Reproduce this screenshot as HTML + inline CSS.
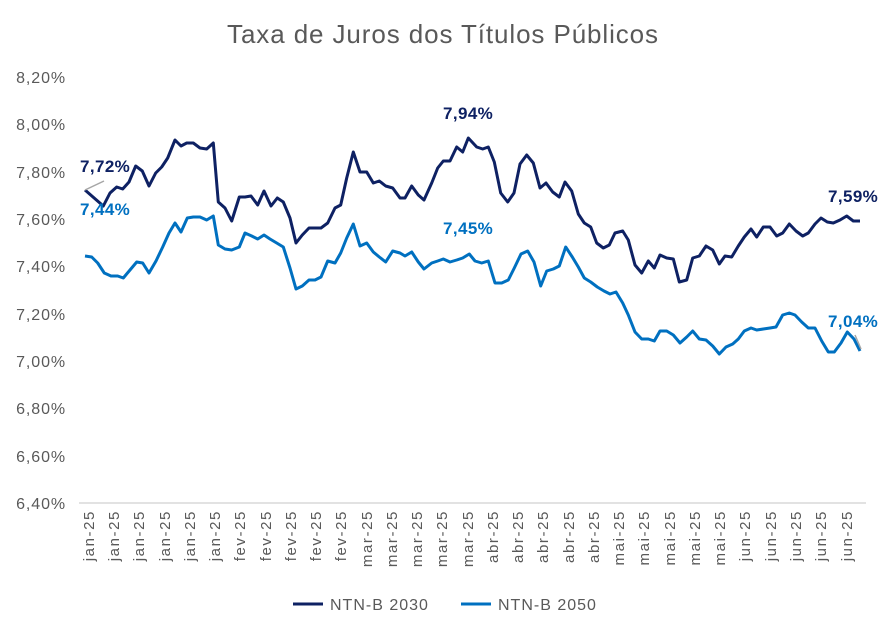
<!DOCTYPE html>
<html><head><meta charset="utf-8"><style>
html,body{margin:0;padding:0;background:#fff;}
svg{display:block;font-family:"Liberation Sans",sans-serif;}
</style></head><body>
<svg width="886" height="635" viewBox="0 0 886 635" xmlns="http://www.w3.org/2000/svg">
<rect width="886" height="635" fill="#fff"/>
<text x="443" y="43" text-anchor="middle" font-size="26" letter-spacing="0.9" fill="#595959">Taxa de Juros dos Títulos Públicos</text>
<g font-size="16" letter-spacing="0.9" fill="#595959" text-anchor="end">
<text x="66" y="83">8,20%</text>
<text x="66" y="130">8,00%</text>
<text x="66" y="178">7,80%</text>
<text x="66" y="225">7,60%</text>
<text x="66" y="272">7,40%</text>
<text x="66" y="320">7,20%</text>
<text x="66" y="367">7,00%</text>
<text x="66" y="414">6,80%</text>
<text x="66" y="462">6,60%</text>
<text x="66" y="509">6,40%</text>
</g>
<line x1="79" y1="503" x2="866" y2="503" stroke="#d9d9d9" stroke-width="1.5"/>
<polyline fill="none" stroke="#0070c0" stroke-width="3" stroke-linejoin="round" points="85,256 91.7,257 97.7,263 104.3,273 111,276 117.7,276 123.3,278 130,270 136.7,262 142.7,263 149,273 156,261 162.7,247 169,233 175,223 181,232 187.3,218 193.3,217 200,217 206.7,220 213.3,216 218.3,245 225,249 231.7,250 239.3,247 245,233 251.7,236 257.7,239 264,235 270,239 276.7,243 283.3,247 290,268 296,289 302.3,286 309,280 315,280 321,277 327.7,261 335,263 340.7,253 346.7,238 353.3,224 360,246 366.7,243 373.3,252 379.3,257 385.7,262 392.7,251 400,253 405,256 411.7,252 418.3,262 424,269 431.7,263 437.7,261 443.3,259 450,262 456.7,260 462.7,258 469.3,254 475,261 481.7,263 488.3,261 495,283 501.7,283 508.3,280 514.3,268 521,254 527.7,251 534,262 540.7,286 546.7,271 553.3,269 559.3,266 565.7,247 572.3,257 578.3,267 584.3,278 590.7,282 597.3,287 604,291 610,294 616,292 622.7,303 628.3,315 635,332 641.7,339 648.3,339 654.3,341 660,331 666.7,331 673.3,335 680,343 686.7,337 692.7,331 699.3,339 706,340 712.7,346 719.3,354 726,347 732.7,344 738.3,339 744.3,331 751,328 756.7,330 763.3,329 770,328 776,327 782.7,315 789.3,313 795,315 801.7,322 808.3,328 815,328 821.7,341 828.3,352 834.3,352 841,343 847.3,332 854,339 860,351"/>
<polyline fill="none" stroke="#0e2163" stroke-width="3" stroke-linejoin="round" points="85,190 103.3,206 110,193 116.7,187 122.7,189 129,182 135.7,166 142.3,171 149,186 155.7,173 161.7,167 167.7,158 175,140 181,146 186.7,143 193.3,143 200,148 206.7,149 213.3,143 218.3,202 225,208 231.7,221 239.3,197 245,197 251,196 257.7,205 264,191 271,206 277.3,198 283.3,202 290,218 296,243 302.3,235 309,228 315,228 321,228 327.7,223 335,208 340.7,205 346.7,178 353.3,152 360,172 366.7,172 373.3,183 379.3,181 385.7,186 392.7,188 400,198 405,198 411.7,186 418.3,195 424,200 431.7,183 437.7,168 443.3,161 450,161 456.7,147 462.7,152 468.3,138 476.7,147 482.7,149 488.3,147 494.3,162 500.7,193 507.7,202 514,193 520,164 526.7,155 533.3,163 540,188 546,183 552.7,192 559.3,197 565,182 571.7,191 578.3,214 584.3,223 590.7,227 596.7,243 603.3,248 609.3,245 615,233 622.7,231 628.3,240 635,265 641.7,273 648.3,261 654.3,268 660,255 666.7,258 673.3,259 679.3,282 686.7,280 692.7,258 699.3,256 706,246 712.7,250 719.3,264 725,256 731.7,257 738.3,246 744.3,237 751,229 756.7,237 763.3,227 770,227 776.7,236 782.7,233 789.3,224 796,231 802.7,236 808.3,233 815,224 821,218 827.3,222 833.3,223 840,220 846.7,216 853.3,221 860,221"/>
<line x1="85" y1="190" x2="104" y2="181" stroke="#a6a6a6" stroke-width="1.5"/>
<line x1="855" y1="335" x2="861" y2="349" stroke="#a6a6a6" stroke-width="1.5"/>
<g font-size="17" font-weight="bold" letter-spacing="0.4">
<text x="80" y="172" fill="#0e2163">7,72%</text>
<text x="80" y="215" fill="#0070c0">7,44%</text>
<text x="443" y="119" fill="#0e2163">7,94%</text>
<text x="443" y="234" fill="#0070c0">7,45%</text>
<text x="828" y="202" fill="#0e2163">7,59%</text>
<text x="828" y="327" fill="#0070c0">7,04%</text>
</g>
<line x1="293" y1="604" x2="323" y2="604" stroke="#0e2163" stroke-width="3"/>
<text x="330" y="610" font-size="16" letter-spacing="1" fill="#595959">NTN-B 2030</text>
<line x1="461" y1="604" x2="491" y2="604" stroke="#0070c0" stroke-width="3"/>
<text x="498" y="610" font-size="16" letter-spacing="1" fill="#595959">NTN-B 2050</text>
<g font-size="15" letter-spacing="1.6" fill="#595959" text-anchor="end">
<text transform="translate(94,510) rotate(-90)">jan-25</text>
<text transform="translate(119,510) rotate(-90)">jan-25</text>
<text transform="translate(144,510) rotate(-90)">jan-25</text>
<text transform="translate(170,510) rotate(-90)">jan-25</text>
<text transform="translate(195,510) rotate(-90)">jan-25</text>
<text transform="translate(220,510) rotate(-90)">jan-25</text>
<text transform="translate(245,510) rotate(-90)">fev-25</text>
<text transform="translate(271,510) rotate(-90)">fev-25</text>
<text transform="translate(296,510) rotate(-90)">fev-25</text>
<text transform="translate(321,510) rotate(-90)">fev-25</text>
<text transform="translate(346,510) rotate(-90)">fev-25</text>
<text transform="translate(372,510) rotate(-90)">mar-25</text>
<text transform="translate(397,510) rotate(-90)">mar-25</text>
<text transform="translate(422,510) rotate(-90)">mar-25</text>
<text transform="translate(447,510) rotate(-90)">mar-25</text>
<text transform="translate(473,510) rotate(-90)">mar-25</text>
<text transform="translate(498,510) rotate(-90)">abr-25</text>
<text transform="translate(523,510) rotate(-90)">abr-25</text>
<text transform="translate(548,510) rotate(-90)">abr-25</text>
<text transform="translate(574,510) rotate(-90)">abr-25</text>
<text transform="translate(599,510) rotate(-90)">abr-25</text>
<text transform="translate(624,510) rotate(-90)">mai-25</text>
<text transform="translate(649,510) rotate(-90)">mai-25</text>
<text transform="translate(675,510) rotate(-90)">mai-25</text>
<text transform="translate(700,510) rotate(-90)">mai-25</text>
<text transform="translate(725,510) rotate(-90)">mai-25</text>
<text transform="translate(750,510) rotate(-90)">jun-25</text>
<text transform="translate(776,510) rotate(-90)">jun-25</text>
<text transform="translate(801,510) rotate(-90)">jun-25</text>
<text transform="translate(826,510) rotate(-90)">jun-25</text>
<text transform="translate(852,510) rotate(-90)">jun-25</text>
</g>
</svg>
</body></html>
